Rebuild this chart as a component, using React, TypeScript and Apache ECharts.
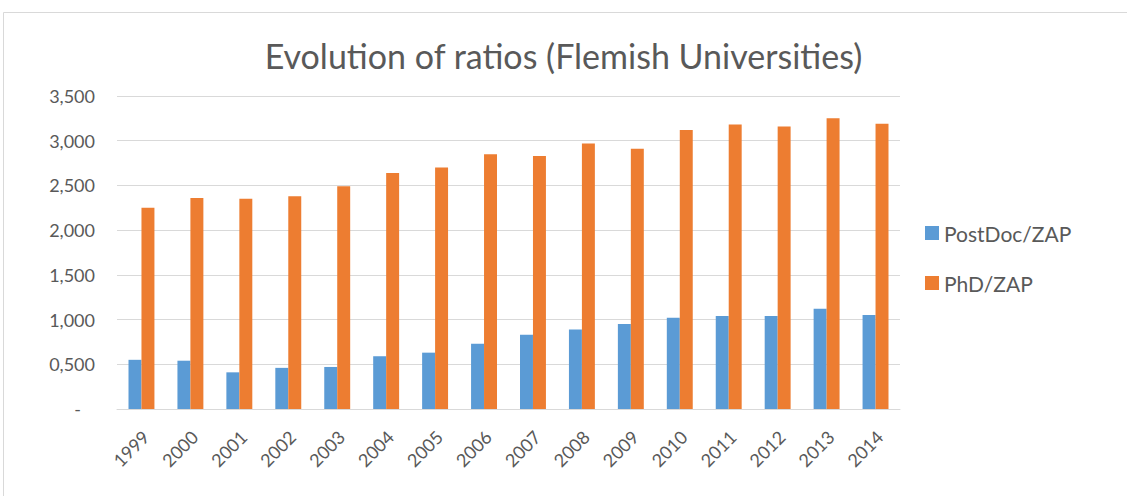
import React, { useEffect, useRef } from "react";
import * as echarts from "echarts";

const years = ["1999","2000","2001","2002","2003","2004","2005","2006","2007","2008","2009","2010","2011","2012","2013","2014"];
const postDoc = [0.55,0.54,0.41,0.46,0.47,0.59,0.63,0.73,0.83,0.89,0.95,1.02,1.04,1.04,1.12,1.05];
const phd = [2.25,2.36,2.35,2.38,2.49,2.64,2.70,2.85,2.83,2.97,2.91,3.12,3.18,3.16,3.25,3.19];
const seriesNames = ["PostDoc/ZAP", "PhD/ZAP"];
const titleText = "Evolution of ratios (Flemish Universities)";

const FONT = "Lato";
const TXT = "#595959";

export default function App() {
  const ref = useRef<HTMLDivElement>(null);
  useEffect(() => {
    document.body.style.margin = "0";
    const chart = echarts.init(ref.current!, null, { renderer: "svg" });
    chart.setOption({
      animation: false,
      backgroundColor: "#ffffff",
      graphic: [
        {
          type: "rect",
          shape: { x: 3.5, y: 12.5, width: 1140, height: 500 },
          style: { fill: "none", stroke: "#d9d9d9", lineWidth: 1 },
          z: -1,
        },
      ],
      title: {
        text: titleText,
        left: "center",
        top: 33,
        textStyle: { fontFamily: FONT, fontSize: 34, fontWeight: "normal", color: TXT },
      },
      legend: {
        orient: "vertical",
        left: 920,
        top: 216,
        itemWidth: 14,
        itemHeight: 14,
        itemGap: 26,
        icon: "rect",
        data: seriesNames,
        textStyle: { fontFamily: FONT, fontSize: 21, color: TXT, lineHeight: 24 },
      },
      grid: { left: 117, right: 227, top: 96, bottom: 87, containLabel: false },
      xAxis: {
        type: "category",
        data: years,
        axisLine: { lineStyle: { color: "#d9d9d9", width: 1 } },
        axisTick: { show: false },
        axisLabel: {
          rotate: 45,
          margin: 29,
          interval: 0,
          fontFamily: FONT,
          fontSize: 18,
          color: TXT,
          padding: [0, -6, 0, 0],
        },
      },
      yAxis: {
        type: "value",
        min: 0,
        max: 3.5,
        interval: 0.5,
        axisLine: { show: false },
        axisTick: { show: false },
        splitLine: { lineStyle: { color: "#d9d9d9", width: 1 } },
        axisLabel: {
          margin: 22,
          fontFamily: FONT,
          fontSize: 18,
          color: TXT,
          formatter: (v: number) => (v === 0 ? "{d|-}" : v.toFixed(3).replace(".", ",")),
          rich: { d: { padding: [0, 14, 0, 0], fontFamily: FONT, fontSize: 18, color: TXT } },
        },
      },
      series: [
        {
          name: seriesNames[0],
          type: "bar",
          data: postDoc,
          barGap: "0%",
          barCategoryGap: "47%",
          itemStyle: { color: "#5b9bd5" },
        },
        {
          name: seriesNames[1],
          type: "bar",
          data: phd,
          barGap: "0%",
          barCategoryGap: "47%",
          itemStyle: { color: "#ed7d31" },
        },
      ],
    });
    return () => chart.dispose();
  }, []);
  return <div ref={ref} style={{ width: 1127, height: 496 }} />;
}
